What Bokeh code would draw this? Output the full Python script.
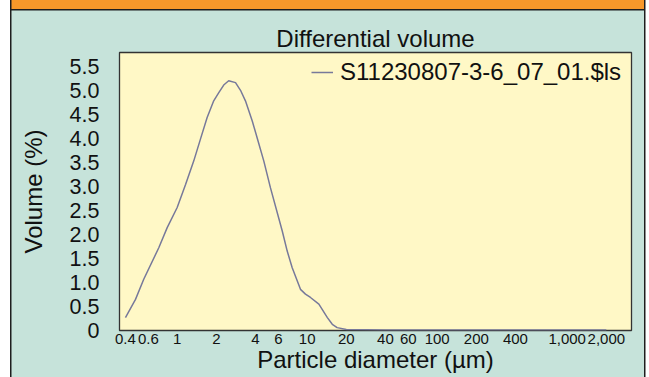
from bokeh.plotting import figure
from bokeh.models import FixedTicker, Range1d, Legend, LegendItem
from bokeh.embed import file_html
from bokeh.resources import INLINE

# ---- data ----
title_text = "Differential volume"
x_label = "Particle diameter (µm)"
y_label = "Volume (%)"
series_name = "S11230807-3-6_07_01.$ls"

diameter_um = [0.40, 0.478, 0.553, 0.722, 0.838, 1.0, 1.16, 1.34, 1.51, 1.70, 1.91,
               2.09, 2.28, 2.49, 2.81, 3.07, 3.35, 3.78, 4.12, 4.64, 5.22, 6.43,
               7.02, 7.67, 8.88, 9.7, 10.6, 12.3, 14.3, 15.6, 17.0, 20.0, 40.0,
               100.0, 400.0, 1000.0, 2000.0]
volume_pct = [0.26, 0.64, 1.06, 1.72, 2.14, 2.56, 3.04, 3.53, 3.99, 4.44, 4.79,
              4.96, 5.12, 5.21, 5.17, 5.01, 4.79, 4.37, 4.02, 3.53, 2.97, 2.07,
              1.65, 1.30, 0.85, 0.75, 0.68, 0.54, 0.26, 0.12, 0.05, 0.01, 0.0,
              0.0, 0.0, 0.0, 0.0]

x_ticks = [0.4, 0.6, 1, 2, 4, 6, 10, 20, 40, 60, 100, 200, 400, 1000, 2000]
x_tick_labels = ["0.4", "0.6", "1", "2", "4", "6", "10", "20", "40", "60", "100",
                 "200", "400", "1,000", "2,000"]
y_ticks = [0, 0.5, 1.0, 1.5, 2.0, 2.5, 3.0, 3.5, 4.0, 4.5, 5.0, 5.5]
y_tick_labels = ["0", "0.5", "1.0", "1.5", "2.0", "2.5", "3.0", "3.5", "4.0",
                 "4.5", "5.0", "5.5"]

# ---- style ----
FONT = "Liberation Sans"
TEAL = "#C6E3DA"
YELLOW = "#FFF8C6"
ORANGE = "#F7982A"
LINE = "#77799A"
DARK = "#1E1E1E"
TXT = "#111111"

W, H = 649, 377
BL, BR, BT, BB = 119, 18, 52, 47

p = figure(width=W, height=H, x_axis_type="log",
           x_range=Range1d(0.36, 3124), y_range=Range1d(-0.01, 5.8),
           output_backend="svg", toolbar_location=None,
           min_border_left=BL, min_border_right=BR,
           min_border_top=BT, min_border_bottom=BB)

# outer panel: teal background, orange header strip, dark border lines (CSS)
p.border_fill_color = None
p.styles = {
    "background-color": TEAL,
    "box-shadow": ("inset 10px 0 0 #FFFFFF, inset -3.5px 0 0 #FFFFFF, "
                   f"inset 11.5px 0 0 {DARK}, inset -5px 0 0 {DARK}, "
                   f"inset 0 9px 0 {ORANGE}, inset 0 10.5px 0 {DARK}"),
}

p.background_fill_color = YELLOW
p.outline_line_color = "#333333"
p.outline_line_width = 1.3
p.grid.visible = False

for ax in (p.xaxis[0], p.yaxis[0]):
    ax.axis_line_color = None
    ax.major_tick_line_color = None
    ax.minor_tick_line_color = None
    ax.major_tick_out = 0
    ax.major_tick_in = 0
    ax.major_label_text_font = FONT
    ax.major_label_text_color = TXT
    ax.axis_label_text_font = FONT
    ax.axis_label_text_font_size = "24px"
    ax.axis_label_text_font_style = "normal"
    ax.axis_label_text_color = TXT

p.xaxis.ticker = FixedTicker(ticks=x_ticks)
p.xaxis.major_label_overrides = {t: l for t, l in zip(x_ticks, x_tick_labels)}
p.xaxis.major_label_text_font_size = "15px"
p.xaxis.major_label_standoff = 3
p.xaxis.axis_label = x_label
p.xaxis.axis_label_standoff = -1

p.yaxis.ticker = FixedTicker(ticks=y_ticks)
p.yaxis.major_label_overrides = {t: l for t, l in zip(y_ticks, y_tick_labels)}
p.yaxis.major_label_text_font_size = "21.5px"
p.yaxis.major_label_standoff = 20
p.yaxis.axis_label = y_label
p.yaxis.axis_label_standoff = 20

p.title.text = title_text
p.title.align = "center"
p.title.offset = 4.5
p.title.standoff = 2
p.title.text_font = FONT
p.title.text_font_size = "24px"
p.title.text_font_style = "normal"
p.title.text_color = TXT

r = p.line(diameter_um, volume_pct, line_color=LINE, line_width=1.5)

legend = Legend(items=[LegendItem(label=series_name, renderers=[r])],
                location=(192, 244), padding=0, margin=0, glyph_width=22,
                glyph_height=20, label_standoff=7, spacing=0,
                label_text_font=FONT, label_text_font_size="24px",
                label_text_color=TXT,
                background_fill_alpha=0, border_line_color=None)
p.add_layout(legend, "center")

open("out.html", "w").write(file_html(p, INLINE))
